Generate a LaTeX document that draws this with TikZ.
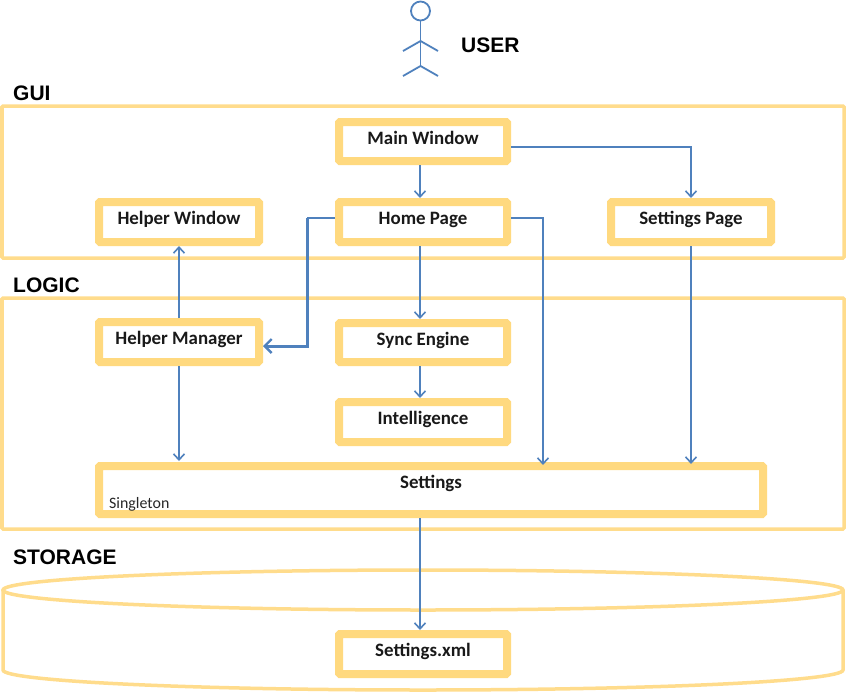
\documentclass[tikz,border=0pt]{standalone}
\usepackage{fontspec}
\setmainfont{Carlito}
\newfontfamily\titlefont{Liberation Sans}
\usetikzlibrary{arrows.meta,calc}
\definecolor{frameor}{HTML}{FFDC8C}
\definecolor{boxor}{HTML}{FFD97F}
\definecolor{linkb}{HTML}{4F81BD}
\tikzset{
  boxn/.style={draw=boxor,line width=8pt,fill=white,rounded corners=1pt,inner sep=0pt,font=\bfseries\fontsize{18.9}{20}\selectfont,text=black!90,text height=11pt,text depth=3pt},
  wbox/.style={boxn,minimum width=160pt,minimum height=40pt},
  mbox/.style={boxn,minimum width=168pt,minimum height=40pt},
  frm/.style={draw=frameor,line width=3.5pt,rounded corners=1pt},
  ttl/.style={font=\titlefont\bfseries\fontsize{21}{23}\selectfont,text=black,anchor=west,inner sep=0pt},
  lnk/.style={draw=linkb,line width=2pt,-{Straight Barb[length=6pt,width=11pt,line width=1.6pt]}},
  lnkb/.style={draw=linkb,line width=3pt,-{Straight Barb[length=7pt,width=14pt,line width=2.4pt]}},
  act/.style={draw=linkb,line width=1.8pt}
}
\begin{document}
\begin{tikzpicture}[x=1pt,y=-1pt]
\useasboundingbox (0,0) rectangle (848,696);
\fill[white] (0,0) rectangle (848,696);
% frames
\draw[frm] (2,106) rectangle (844,258);
\draw[frm] (2,298) rectangle (844,529);
% storage cylinder
\draw[frm,rounded corners=0pt] (3,590) arc[start angle=180,end angle=360,x radius=420,y radius=20]
  arc[start angle=0,end angle=180,x radius=420,y radius=20] -- cycle;
\draw[frm,rounded corners=0pt] (3,590) -- (3,670) arc[start angle=180,end angle=0,x radius=420,y radius=20] -- (843,590);
% titles
\node[ttl] (tuser) at (461,45) {USER};
\node[ttl] (tgui) at (13,93) {GUI};
\node[ttl] (tlogic) at (13,285) {LOGIC};
\node[ttl] (tstorage) at (13,557) {STORAGE};
% actor
\node[draw=linkb,line width=1.8pt,circle,minimum size=19pt,inner sep=0pt] (head) at (420.5,11) {};
\coordinate (hip) at (420.5,66);
\coordinate (neck) at (420.5,41);
\draw[act] (head.south) -- (hip);
\draw[act] (403,51) -- (neck) -- (438,51);
\draw[act] (403,76) -- (hip) -- (438,76);
% boxes
\node[mbox,minimum height=39pt] (main) at (423,141.5) {\raisebox{1pt}{Main Window}};
\node[mbox] (home) at (423,222) {\raisebox{2pt}{Home Page}};
\node[wbox] (hwin) at (179,222) {\raisebox{2pt}{Helper Window}};
\node[wbox] (spage) at (691,222) {\raisebox{2pt}{Settings Page}};
\node[wbox] (hmgr) at (179,342) {\raisebox{2pt}{Helper Manager}};
\node[mbox,minimum height=39pt] (sync) at (423,342.5) {\raisebox{1.5pt}{Sync Engine}};
\node[mbox] (intel) at (423,422) {\raisebox{2pt}{Intelligence}};
\node[boxn,minimum width=664pt,minimum height=48pt] (settings) at (431,490) {\raisebox{6pt}{Settings}};
\node[font=\fontsize{15.9}{17}\selectfont,text=black!85,anchor=west,inner sep=0pt] (single) at (109,504) {Singleton};
\node[mbox] (xml) at (423,654) {\raisebox{2pt}{Settings.xml}};
% connectors
\draw[lnk] (main.south -| 420,0) -- (home.north -| 420,0);
\draw[lnk] ([yshift=-5pt]main.east) -| (spage.north -| 691,0);
\draw[lnk] (home.south -| 420,0) -- (sync.north -| 420,0);
\draw[lnk] (sync.south -| 420,0) -- (intel.north -| 420,0);
\draw[lnk] ([yshift=4pt]home.east) -| (543,465);
\draw[lnk] (spage.south -| 691,0) -- (691,464);
\draw[lnk] (hmgr.north -| 179,0) -- (hwin.south -| 179,0);
\draw[lnk] (hmgr.south -| 179,0) -- (179,461);
\coordinate (elbow) at (307,218);
\draw[draw=linkb,line width=2pt] ([yshift=4pt]home.west) -- (elbow);
\draw[lnkb] (elbow) -- (307,346) -- ([yshift=-4pt]hmgr.east);
\draw[lnk] (settings.south -| 420,0) -- (xml.north -| 420,0);
\end{tikzpicture}
\end{document}
